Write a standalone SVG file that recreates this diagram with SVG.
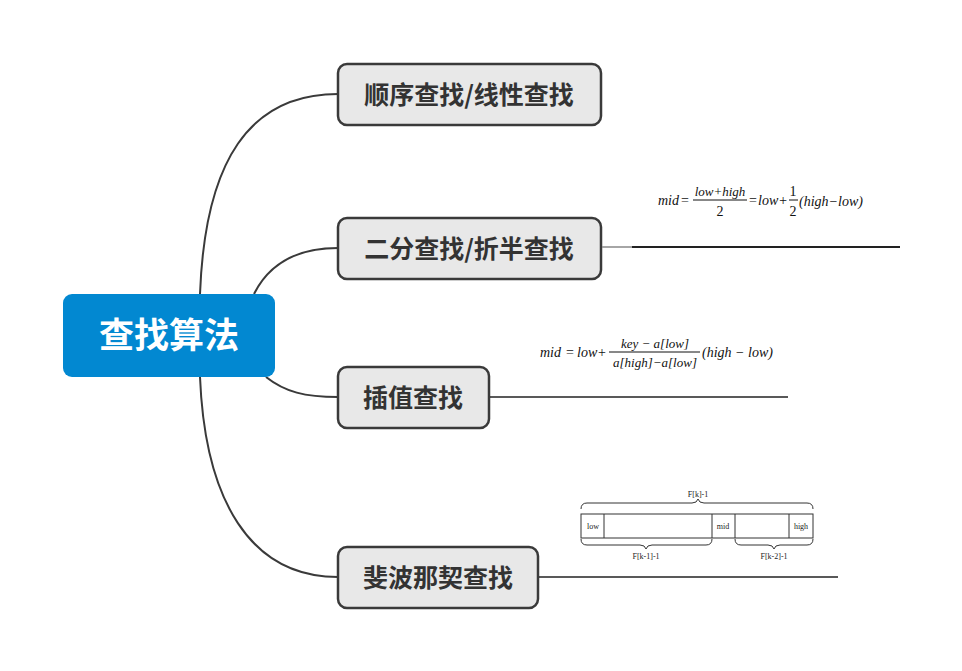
<svg xmlns="http://www.w3.org/2000/svg" width="962" height="671" viewBox="0 0 962 671">
<style>
.node rect{fill:#e8e8e8;stroke:#3a3a3a;stroke-width:2.5}
.node text{font-family:"Noto Sans CJK SC",sans-serif;font-weight:bold;font-size:25px;fill:#333;text-anchor:middle}
.root text{font-family:"Noto Sans CJK SC",sans-serif;font-weight:bold;font-size:35px;fill:#fff;text-anchor:middle}
.conn path{fill:none;stroke:#3a3a3a;stroke-width:2}
.f{font-family:"Liberation Serif",serif;font-style:italic;font-size:14px;fill:#111}
.fs{font-family:"Liberation Serif",serif;font-style:italic;font-size:13px;fill:#111}
.fu{font-family:"Liberation Serif",serif;font-size:14px;fill:#111}
.fb text{font-family:"Liberation Serif",serif;font-size:8px;fill:#222;text-anchor:middle}
.fb path,.fb rect,.fb line{fill:none;stroke:#333;stroke-width:1}
</style>
<rect width="962" height="671" fill="#fff"/>
<g class="conn">
<path d="M200 294 C205 160,250 94,338 94"/>
<path d="M254 294 C270 262,300 248,338 248"/>
<path d="M266 377 C285 392,305 397,338 397"/>
<path d="M200 377 C205 500,250 577,338 577"/>
</g>
<g id="root" class="root">
<rect x="63" y="294" width="212" height="83" rx="9" fill="#0288d1"/>
<text x="169" y="348">查找算法</text>
</g>
<g id="n1" class="node">
<rect x="338" y="64" width="263" height="61" rx="9"/>
<text x="469" y="104">顺序查找/线性查找</text>
</g>
<g id="n2" class="node">
<rect x="338" y="218" width="263" height="61" rx="9"/>
<text x="469" y="258">二分查找/折半查找</text>
</g>
<g id="n3" class="node">
<rect x="338" y="367" width="151" height="61" rx="9"/>
<text x="413" y="407">插值查找</text>
</g>
<g id="n4" class="node">
<rect x="338" y="547" width="200" height="61" rx="9"/>
<text x="438" y="587">斐波那契查找</text>
</g>
<g id="lines">
<line x1="602" y1="247" x2="632" y2="247" stroke="#888" stroke-width="1.5"/>
<line x1="632" y1="247" x2="900" y2="247" stroke="#222" stroke-width="2"/>
<line x1="490" y1="397" x2="788" y2="397" stroke="#222" stroke-width="1.5"/>
<line x1="539" y1="577" x2="838" y2="577" stroke="#222" stroke-width="1.5"/>
</g>
<g id="formula1">
<text class="f" x="658" y="205">mid</text>
<text class="fu" x="681" y="205">=</text>
<text class="fs" x="720" y="196" text-anchor="middle">low+high</text>
<line x1="693" y1="200" x2="747" y2="200" stroke="#111" stroke-width="1"/>
<text class="fu" x="720" y="216" text-anchor="middle">2</text>
<text class="fu" x="749" y="205">=</text>
<text class="f" x="758" y="205">low+</text>
<text class="fu" x="793" y="196" text-anchor="middle">1</text>
<line x1="789" y1="200" x2="798" y2="200" stroke="#111" stroke-width="1"/>
<text class="fu" x="793" y="216" text-anchor="middle">2</text>
<text class="f" x="799" y="206">(high−low)</text>
</g>
<g id="formula2">
<text class="f" x="540" y="357">mid</text>
<text class="fu" x="566" y="357">=</text>
<text class="f" x="577" y="357">low</text>
<text class="fu" x="598" y="357">+</text>
<text class="fs" x="655" y="348" text-anchor="middle">key − a[low]</text>
<line x1="609" y1="352" x2="700" y2="352" stroke="#111" stroke-width="1"/>
<text class="fs" x="655" y="367" text-anchor="middle">a[high]−a[low]</text>
<text class="f" x="702" y="357">(high − low)</text>
</g>
<g id="fib" class="fb">
<text x="698" y="497">F[k]-1</text>
<path d="M581 509 Q581 503 587 503 L692 503 Q697 503 698 499 Q699 503 704 503 L807 503 Q813 503 813 509"/>
<rect x="581" y="514" width="232" height="24"/>
<line x1="604" y1="514" x2="604" y2="538"/>
<line x1="712" y1="514" x2="712" y2="538"/>
<line x1="735" y1="514" x2="735" y2="538"/>
<line x1="789" y1="514" x2="789" y2="538"/>
<text x="593" y="529">low</text>
<text x="723" y="529">mid</text>
<text x="801" y="529">high</text>
<path d="M581 539 Q581 545 587 545 L640 545 Q645 545 646 549 Q647 545 652 545 L706 545 Q712 545 712 539"/>
<path d="M735 539 Q735 545 741 545 L768 545 Q773 545 774 549 Q775 545 780 545 L807 545 Q813 545 813 539"/>
<text x="646" y="559">F[k-1]-1</text>
<text x="774" y="559">F[k-2]-1</text>
</g>
</svg>
